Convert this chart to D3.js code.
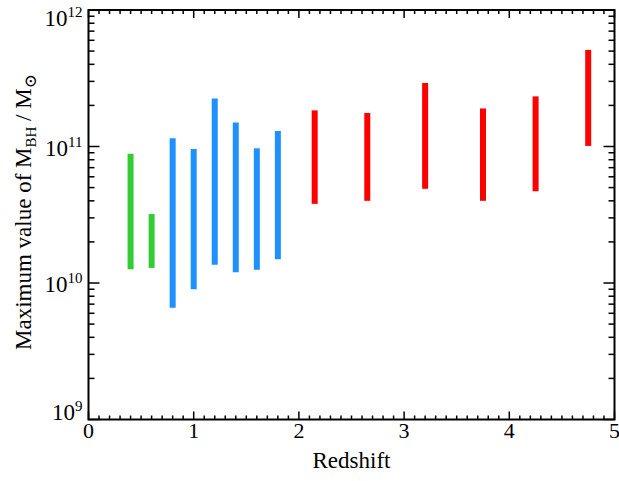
<!DOCTYPE html>
<html>
<head>
<meta charset="utf-8">
<script src="https://cdn.jsdelivr.net/npm/d3@7"></script>
<style>
  html, body { margin: 0; padding: 0; background: #fff; }
  svg { display: block; font-family: "Liberation Serif", "DejaVu Serif", serif; }
</style>
</head>
<body>
<svg id="chart" width="619" height="481"></svg>
<script>
// ---- data ----
const redshift = [0.40, 0.60, 0.80, 1.00, 1.20, 1.40, 1.60, 1.80, 2.15, 2.65, 3.20, 3.75, 4.25, 4.75];
const massLow  = [1.26e10, 1.29e10, 6.6e9, 9.0e9, 1.36e10, 1.20e10, 1.25e10, 1.49e10, 3.8e10, 4.0e10, 4.9e10, 4.0e10, 4.7e10, 1.01e11];
const massHigh = [8.85e10, 3.2e10, 1.15e11, 9.6e10, 2.25e11, 1.50e11, 9.7e10, 1.30e11, 1.84e11, 1.76e11, 2.92e11, 1.90e11, 2.33e11, 5.1e11];
const group    = ["low", "low", "mid", "mid", "mid", "mid", "mid", "mid", "high", "high", "high", "high", "high", "high"];
const groupColors = { low: "#33CC33", mid: "#1E90FF", high: "#FF0000" };
const xTickValues = [0, 1, 2, 3, 4, 5];
const yTickExponents = [9, 10, 11, 12];
const xLabel = "Redshift";

// ---- layout ----
const svg = d3.select("#chart");
const L = 88.5, R = 614.5, T = 10, B = 419.5;
const x = d3.scaleLinear().domain([0, 5]).range([L, R]);
const y = d3.scaleLog().domain([1e9, 1e12]).range([B, T]);

// ---- bars ----
svg.append("g").selectAll("line").data(redshift).join("line")
  .attr("x1", d => x(d)).attr("x2", d => x(d))
  .attr("y1", (d, i) => y(massLow[i])).attr("y2", (d, i) => y(massHigh[i]))
  .attr("stroke", (d, i) => groupColors[group[i]])
  .attr("stroke-width", 6);

// ---- axes (IDL style: inward ticks on all four sides) ----
const minorX = d3.range(0, 51).map(i => i / 10).filter(v => !xTickValues.includes(v));
const minorY = [];
for (let e = 9; e < 12; e++) for (let m = 2; m <= 9; m++) minorY.push(m * Math.pow(10, e));
const majorY = yTickExponents.map(e => Math.pow(10, e));

const axes = svg.append("g").attr("stroke", "#000").attr("fill", "none");
function tickLines(sel, vals, fn, w) {
  sel.append("g").attr("stroke-width", w).selectAll("line").data(vals).join("line").each(function(d){ fn(d3.select(this), d); });
}
// bottom
tickLines(axes, xTickValues, (s, d) => s.attr("x1", x(d)).attr("x2", x(d)).attr("y1", B).attr("y2", B - 8), 1.5);
tickLines(axes, minorX, (s, d) => s.attr("x1", x(d)).attr("x2", x(d)).attr("y1", B).attr("y2", B - 4), 1.5);
// top
tickLines(axes, xTickValues, (s, d) => s.attr("x1", x(d)).attr("x2", x(d)).attr("y1", T).attr("y2", T + 8), 1.5);
tickLines(axes, minorX, (s, d) => s.attr("x1", x(d)).attr("x2", x(d)).attr("y1", T).attr("y2", T + 4), 1.5);
// left
tickLines(axes, majorY, (s, d) => s.attr("y1", y(d)).attr("y2", y(d)).attr("x1", L).attr("x2", L + 11), 1.5);
tickLines(axes, minorY, (s, d) => s.attr("y1", y(d)).attr("y2", y(d)).attr("x1", L).attr("x2", L + 6), 1.5);
// right
tickLines(axes, majorY, (s, d) => s.attr("y1", y(d)).attr("y2", y(d)).attr("x1", R).attr("x2", R - 11), 1.5);
tickLines(axes, minorY, (s, d) => s.attr("y1", y(d)).attr("y2", y(d)).attr("x1", R).attr("x2", R - 6), 1.5);
// frame
axes.append("rect").attr("x", L).attr("y", T).attr("width", R - L).attr("height", B - T).attr("stroke-width", 2);

// ---- tick labels ----
svg.append("g").attr("font-size", 22).attr("text-anchor", "middle").attr("fill", "#000")
  .selectAll("text").data(xTickValues).join("text")
  .attr("x", d => x(d)).attr("y", B + 18)
  .text(d => d3.format("d")(d));

const yl = svg.append("g").attr("fill", "#000");
yTickExponents.forEach(e => {
  const ty = y(Math.pow(10, e));
  const cy = Math.max(T + 8.5, Math.min(B - 7, ty + 2));
  const t = yl.append("text").attr("x", L - 6).attr("y", cy + 7).attr("text-anchor", "end").attr("font-size", 23);
  t.append("tspan").text("10");
  t.append("tspan").attr("font-size", 15).attr("dy", -9).text(String(e));
});

// ---- axis titles ----
svg.append("text").attr("x", (L + R) / 2).attr("y", B + 48).attr("text-anchor", "middle")
  .attr("font-size", 23).attr("fill", "#000").text(xLabel);

const yt = svg.append("text").attr("transform", "translate(31,350) rotate(-90)")
  .attr("text-anchor", "start").attr("font-size", 23).attr("fill", "#000");
yt.append("tspan").text("Maximum value of M");
yt.append("tspan").attr("font-size", 15).attr("dy", 5).text("BH");
yt.append("tspan").attr("dy", -5).text(" / M");
yt.append("tspan").attr("font-size", 17).attr("dy", 5).text("⊙");
</script>
</body>
</html>
